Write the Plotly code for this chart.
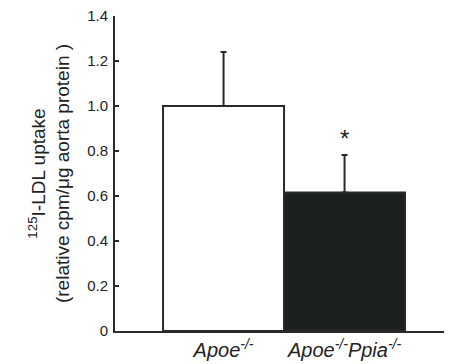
import plotly.graph_objects as go

categories = ["<i>Apoe<sup>-/-</sup></i>", "<i>Apoe<sup>-/-</sup>Ppia<sup>-/-</sup></i>"]
values = [1.0, 0.615]
errors = [0.24, 0.167]
bar_colors = ["#ffffff", "#1c211e"]
ytick_vals = [0, 0.2, 0.4, 0.6, 0.8, 1.0, 1.2, 1.4]
ytick_text = ["0", "0.2", "0.4", "0.6", "0.8", "1.0", "1.2", "1.4"]

fig = go.Figure()
fig.add_trace(go.Bar(
    x=[0, 1], y=values, width=1,
    marker=dict(color=bar_colors, line=dict(color="#2a2a2a", width=2)),
    error_y=dict(type="data", array=errors, arrayminus=[0, 0], symmetric=False,
                 color="#2a2a2a", thickness=2, width=3),
))
fig.add_annotation(x=1, y=0.855, text="*", showarrow=False,
                   font=dict(size=24, color="#222", family="Liberation Sans"))

fig.update_layout(
    width=444, height=356,
    margin=dict(l=107, r=0, t=8, b=33),
    paper_bgcolor="white", plot_bgcolor="white",
    showlegend=False,
    font=dict(family="Liberation Sans, Arial, sans-serif", color="#222"),
    xaxis=dict(range=[-0.897, 1.888], tickvals=[0, 1], ticktext=categories,
               showline=True, linecolor="#2a2a2a", linewidth=2, ticks="",
               showgrid=False, zeroline=False, tickfont=dict(size=20)),
    yaxis=dict(range=[0, 1.4], tickvals=ytick_vals, ticktext=ytick_text,
               showline=True, linecolor="#2a2a2a", linewidth=2,
               ticks="inside", ticklen=4, tickwidth=2, tickcolor="#2a2a2a",
               showgrid=False, zeroline=False, tickfont=dict(size=15),
               ticklabelstandoff=2, ticklabeloverflow="allow",
               title=dict(text="<sup>125</sup>I-LDL uptake<br>(relative cpm/μg aorta protein )",
                          font=dict(size=19), standoff=12)),
)
fig.write_html("out.html")
